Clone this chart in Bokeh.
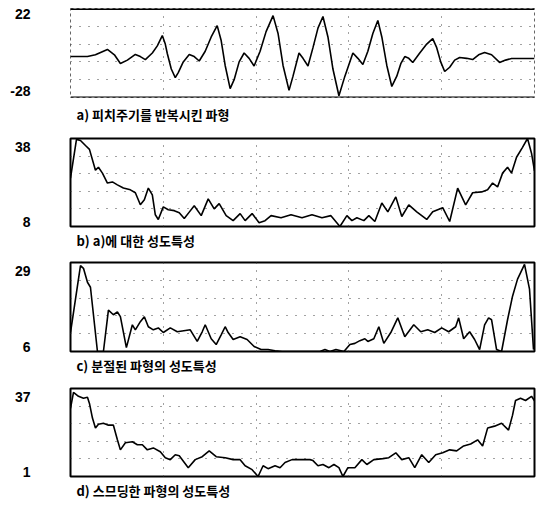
from bokeh.plotting import figure
from bokeh.layouts import column
from bokeh.models import Range1d, Grid, FixedTicker, LinearAxis, Span
from bokeh.embed import file_html
from bokeh.resources import INLINE

# sample index span shared by all four traces
N_SPAN = 465

# a) waveform with repeated pitch period
a_x = [0, 17, 25, 37, 44, 50, 57, 65, 70, 75, 82, 87, 92, 95, 97, 101, 105, 108, 113, 119,
       124, 129, 135, 141, 147, 151, 155, 160, 164, 169, 174, 179, 184, 190, 196, 203, 208, 213, 219, 223,
       229, 233, 238, 243, 248, 253, 258, 263, 269, 275, 283, 288, 293, 298, 303, 308, 312, 317, 322, 327,
       331, 335, 339, 343, 350, 357, 363, 367, 371, 375, 380, 385, 390, 397, 403, 409, 415, 422, 430, 436,
       442, 465]
a_y = [-5, -5, -4, -1, -4, -8.9, -7, -3.8, -5, -6.7, -3, 1, 6.8, 2, -3.3, -12, -16.8, -14, -8, -3.8,
       -5, -7.5, -2, 6, 12.4, 4, -10, -23, -18, -8, -3, -6, -10.3, -2, 9, 18, 8, -10, -24, -16,
       -3, -6, -10.3, 0, 11, 17.5, 6, -12, -27, -16, -3, -6, -9.5, -2, 8, 15.3, 6, -10, -21.8, -16,
       -9, -5, -6, -8.3, -3, 2, 5.1, 0, -8, -13.4, -11, -7, -5.5, -6, -6.7, -4, -2.7, -4, -8.3, -7,
       -6.1, -6.1]
a_range = (-28, 22)
a_ticks = ["22", "-28"]
a_caption = "a) 피치주기를 반복시킨 파형"

# b) vocal tract characteristic of a)
b_x = [0, 6, 10, 15, 19, 25, 28, 32, 37, 42, 47, 53, 60, 65, 70, 74, 78, 82, 85, 88,
       93, 98, 104, 109, 114, 119, 124, 131, 138, 144, 149, 156, 163, 170, 175, 182, 189, 195, 201, 211,
       221, 232, 242, 252, 261, 270, 277, 282, 287, 294, 299, 305, 312, 318, 326, 332, 339, 347, 357, 363,
       373, 380, 388, 396, 403, 412, 418, 423, 428, 433, 438, 442, 447, 453, 458, 462, 465]
b_y = [24.5, 37.7, 37.3, 35.6, 34.3, 27.2, 28.2, 26.2, 22.8, 23.2, 22.2, 21.1, 20.5, 19.5, 15.4, 17.1, 21.1, 18.8, 12, 10.4,
       14.7, 13.7, 13.4, 12.7, 10.7, 12.9, 15.1, 11.7, 17.4, 14, 15.8, 11.7, 10, 12.4, 10, 12.4, 9.3, 10, 11.7, 11,
       12, 11, 12, 11, 11.7, 8, 11.7, 10, 11, 10, 11.7, 9.7, 16, 13, 18.1, 11.4, 15.4, 13, 10.4, 13,
       14.4, 9.7, 21.1, 15.4, 19.5, 19.8, 20.5, 22.8, 21.5, 26.2, 28.2, 26.2, 31.6, 35, 38, 33, 27]
b_range = (8, 38)
b_ticks = ["38", "8"]
b_caption = "b) a)에 대한 성도특성"

# c) vocal tract characteristic of the segmented waveform
c_x = [0, 10, 13, 17, 20, 27, 33, 38, 43, 47, 50, 56, 62, 65, 70, 74, 78, 83, 88, 93,
       100, 107, 120, 127, 132, 135, 141, 146, 151, 155, 158, 163, 170, 177, 184, 191, 198, 205, 212, 250,
       255, 260, 266, 274, 280, 285, 290, 295, 298, 304, 309, 314, 321, 328, 335, 344, 351, 358, 365, 372,
       379, 386, 389, 394, 400, 405, 410, 415, 419, 422, 427, 432, 438, 443, 448, 455, 460, 464]
c_y = [10.9, 28.2, 27.5, 23.9, 22.6, 6, 6, 16.7, 15.5, 16.2, 15, 7, 12.9, 11.6, 13.7, 15, 12.4, 11.6, 12.1, 10.9,
       12.1, 11.1, 11.6, 8.6, 11.1, 12.9, 9.3, 7.8, 10.3, 12.4, 10.9, 9.1, 9.8, 9.1, 7.3, 6.5, 6.5, 6.2, 6, 6,
       6.5, 6, 6.5, 6, 7.8, 8.1, 8.8, 9.3, 8.6, 9.3, 12.4, 8.1, 10.9, 14.7, 9.8, 12.9, 11.1, 11.6, 10.9, 12.1,
       11.1, 12.4, 14.7, 9.3, 11.1, 9.1, 6.5, 12.9, 14.7, 14.2, 6.5, 6, 14.2, 20.3, 24.7, 28.5, 22.1, 6.5]
c_range = (6, 29)
c_ticks = ["29", "6"]
c_caption = "c) 분절된 파형의 성도특성"

# d) vocal tract characteristic of the smoothed waveform
d_x = [0, 3, 8, 13, 17, 19, 22, 25, 28, 33, 38, 43, 47, 50, 55, 62, 67, 72, 77, 83,
       90, 95, 100, 105, 109, 118, 125, 132, 139, 146, 155, 163, 170, 175, 182, 188, 193, 198, 205, 210,
       215, 222, 231, 240, 243, 248, 253, 259, 264, 269, 273, 278, 285, 292, 297, 304, 313, 319, 326, 332,
       339, 345, 352, 359, 366, 373, 380, 387, 394, 401, 408, 413, 418, 425, 432, 439, 443, 446, 451, 456,
       462, 465]
d_y = [28.9, 35.4, 33.8, 33, 33.4, 30.9, 24.9, 20.8, 22.4, 22.8, 22, 22, 16, 11.9, 14.8, 15.2, 14, 14, 11.9, 12.7,
       11.1, 8.7, 7.9, 9.9, 9.5, 4.6, 7.9, 9.1, 11.5, 9.1, 8.7, 7.9, 7.9, 5.4, 3.8, 1, 5.4, 4.2, 5.4, 4.6,
       6.7, 7.9, 7.9, 7.9, 7.5, 5.4, 5.9, 4.6, 5.9, 4.6, 1, 4.6, 4.6, 7.9, 5.9, 7.9, 8.3, 8.7, 10.7, 7.9,
       8.7, 4.6, 9.9, 6.7, 9.9, 10.7, 11.9, 11.5, 13.5, 14.3, 16, 13.5, 20.8, 21.6, 22.8, 20, 26.1, 32.1, 33, 32.1,
       33.8, 32]
d_range = (1, 37)
d_ticks = ["37", "1"]
d_caption = "d) 스므딩한 파형의 성도특성"

NUM_FONT = "Liberation Sans Narrow, Liberation Sans"
CAP_FONT = "Noto Sans CJK KR"
LEFT = 70
FRAME_W = 464
RIGHT = 4


def panel(xs, ys, yr, ticks, caption, b_top, frame_h, b_bot,
          top_in=9.0, bot_in=5.0, cap_standoff=5, first=False):
    ybot, ytop = yr
    span = ytop - ybot
    p = figure(width=LEFT + FRAME_W + RIGHT, height=b_top + frame_h + b_bot,
               x_range=Range1d(0, N_SPAN), y_range=Range1d(ybot, ytop),
               x_axis_type=None, y_axis_type=None,
               title=caption, title_location="below",
               output_backend="svg", toolbar_location=None,
               min_border_left=LEFT, min_border_right=RIGHT,
               min_border_top=b_top, min_border_bottom=b_bot)
    p.background_fill_color = "white"
    p.border_fill_color = "white"
    # caption
    p.title.align = "left"
    p.title.offset = 6
    p.title.standoff = cap_standoff
    p.title.text_font = CAP_FONT
    p.title.text_font_size = "13px"
    p.title.text_font_style = "bold"
    p.title.text_color = "black"
    # end value labels, drawn slightly inside the panel edges like the original
    t_top = round(ytop - top_in / frame_h * span, 2)
    t_bot = round(ybot + bot_in / frame_h * span, 2)
    yax = LinearAxis(ticker=FixedTicker(ticks=[t_bot, t_top]),
                     major_label_overrides={t_top: ticks[0], t_bot: ticks[1]},
                     axis_line_color=None, major_tick_line_color=None,
                     minor_tick_line_color=None, major_tick_in=0, major_tick_out=0,
                     major_label_standoff=40,
                     major_label_text_font=NUM_FONT, major_label_text_font_size="14px",
                     major_label_text_font_style="bold", major_label_text_color="black")
    p.add_layout(yax, "left")
    xt = [N_SPAN * k / 5 for k in range(1, 5)]
    yt = [ybot + span * k / 5 for k in range(1, 5)]
    p.add_layout(Grid(dimension=0, ticker=FixedTicker(ticks=xt), grid_line_color="#444444",
                      grid_line_dash="1 7", grid_line_width=1))
    p.add_layout(Grid(dimension=1, ticker=FixedTicker(ticks=yt), grid_line_color="#444444",
                      grid_line_dash="1 8", grid_line_width=1))
    if first:
        p.outline_line_color = "#666666"
        p.outline_line_width = 1
        p.outline_line_dash = "3 3"
        p.add_layout(Span(location=ytop, dimension="width", line_color="black", line_width=3))
        p.add_layout(Span(location=ybot, dimension="width", line_color="black", line_width=2))
    else:
        p.outline_line_color = "black"
        p.outline_line_width = 2
    p.line(xs, ys, line_color="black", line_width=1.6)
    return p


pa = panel(a_x, a_y, a_range, a_ticks, a_caption, 8, 89, 35, top_in=6.0, bot_in=7.0,
           cap_standoff=10, first=True)
pb = panel(b_x, b_y, b_range, b_ticks, b_caption, 6, 89, 25)
pc = panel(c_x, c_y, c_range, c_ticks, c_caption, 10, 90, 25)
pd = panel(d_x, d_y, d_range, d_ticks, d_caption, 11, 89, 25)

layout = column(pa, pb, pc, pd, spacing=0)
open("out.html", "w").write(file_html(layout, INLINE))
